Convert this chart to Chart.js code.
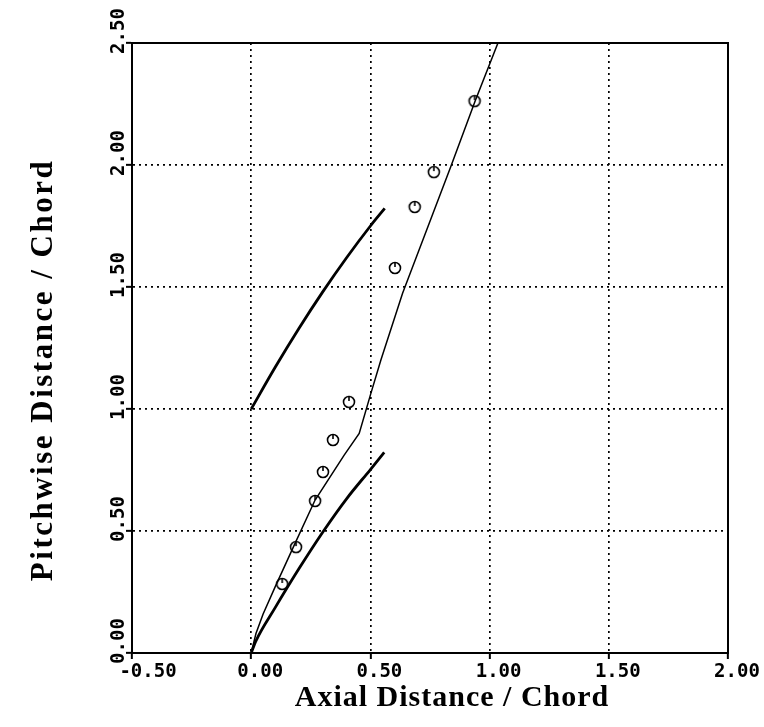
<!DOCTYPE html>
<html>
<head>
<meta charset="utf-8">
<title>Pitchwise vs axial distance</title>
<script src="https://cdn.jsdelivr.net/npm/chart.js@4/dist/chart.umd.min.js"></script>
<style>
  html, body { margin: 0; padding: 0; background: #fff; }
  #wrap { width: 764px; height: 727px; }
</style>
</head>
<body>
<div id="wrap"><canvas id="chart" width="764" height="727"></canvas></div>
<script>
// axis ticks
const xTicks = [-0.5, 0, 0.5, 1.0, 1.5, 2.0];
const yTicks = [0, 0.5, 1.0, 1.5, 2.0, 2.5];

// blade surfaces (heavy lines)
const upperX = [0, 0.1, 0.2, 0.3, 0.4, 0.5, 0.56];
const upperY = [1.0, 1.17, 1.33, 1.48, 1.62, 1.75, 1.822];
const lowerX = [0, 0.02, 0.1, 0.2, 0.3, 0.4, 0.5, 0.558];
const lowerY = [0, 0.05, 0.185, 0.345, 0.495, 0.632, 0.752, 0.822];

// computed path (thin line)
const pathX = [0, 0.02, 0.05, 0.1, 0.181, 0.268, 0.39, 0.453, 0.502, 0.544, 0.635, 0.837, 0.941, 1.035];
const pathY = [0, 0.08, 0.16, 0.27, 0.443, 0.627, 0.811, 0.90, 1.064, 1.201, 1.474, 1.993, 2.266, 2.5];

// measured points (circles)
const measX = [0.130, 0.188, 0.268, 0.301, 0.343, 0.410, 0.603, 0.686, 0.766, 0.937];
const measY = [0.283, 0.434, 0.623, 0.742, 0.873, 1.029, 1.578, 1.828, 1.971, 2.262];

const toXY = (xs, ys) => xs.map((x, i) => ({ x, y: ys[i] }));

// open circle with a small notch at the top
function circleMarker() {
    const c = document.createElement('canvas');
    c.width = 16; c.height = 16;
    const g = c.getContext('2d');
    g.strokeStyle = '#000';
    g.lineWidth = 1.6;
    g.beginPath(); g.arc(8, 8, 5.5, 0, Math.PI * 2); g.stroke();
    g.beginPath(); g.moveTo(8, 2.5); g.lineTo(8, 7); g.stroke();
    return c;
}

const lineSet = (data, width, smooth) => ({
    data, showLine: true, borderColor: '#000', borderWidth: width,
    pointRadius: 0, fill: false,
    cubicInterpolationMode: smooth ? 'monotone' : 'default',
    tension: 0,
});

// frame, tick labels and axis titles
const frameAndLabels = {
    id: 'frameAndLabels',
    afterDraw(chart) {
        const { ctx, chartArea: a, scales: { x, y } } = chart;
        ctx.save();
        ctx.strokeStyle = '#000';
        ctx.lineWidth = 2;
        ctx.strokeRect(a.left, a.top, a.right - a.left, a.bottom - a.top);

        ctx.fillStyle = '#000';
        ctx.font = 'bold 19px "DejaVu Sans Mono"';
        ctx.textAlign = 'center';
        ctx.textBaseline = 'alphabetic';
        xTicks.forEach((v, i) => {
            const px = x.getPixelForValue(v);
            ctx.fillText(v.toFixed(2), px + (i === 0 ? 16 : 9), 677);
        });
        yTicks.forEach(v => {
            const py = y.getPixelForValue(v);
            ctx.save();
            ctx.translate(124, py - 12);
            ctx.rotate(-Math.PI / 2);
            ctx.fillText(v.toFixed(2), 0, 0);
            ctx.restore();
        });

        ctx.font = 'bold 30px "Liberation Serif"';
        ctx.letterSpacing = '1px';
        ctx.fillText('Axial Distance / Chord', 452, 706);

        ctx.save();
        ctx.translate(52, 370);
        ctx.rotate(-Math.PI / 2);
        ctx.font = 'bold 31px "Liberation Serif"';
        ctx.letterSpacing = '2.5px';
        ctx.fillText('Pitchwise Distance / Chord', 0, 0);
        ctx.restore();
        ctx.restore();
    },
};

const gridOpts = (edges) => ({
    color: c => edges.includes(c.tick && c.tick.value) ? 'rgba(0,0,0,0)' : '#000',
    lineWidth: 1.7,
    drawTicks: true,
    tickLength: 6,
    tickColor: '#000',
    tickWidth: 2,
    tickBorderDash: [],
});

new Chart(document.getElementById('chart'), {
    type: 'scatter',
    data: {
        datasets: [
            lineSet(toXY(upperX, upperY), 2.8, true),
            lineSet(toXY(lowerX, lowerY), 2.8, true),
            lineSet(toXY(pathX, pathY), 1.5, false),
            {
                data: toXY(measX, measY),
                showLine: false,
                pointStyle: circleMarker(),
                pointRadius: 6,
            },
        ],
    },
    options: {
        responsive: false,
        animation: false,
        layout: { padding: { top: 43, right: 36, left: 0, bottom: 0 } },
        plugins: { legend: { display: false }, tooltip: { enabled: false } },
        scales: {
            x: {
                type: 'linear', min: -0.5, max: 2,
                afterBuildTicks: s => { s.ticks = xTicks.map(v => ({ value: v })); },
                afterFit: s => { s.height = 74; },
                ticks: { display: false },
                grid: gridOpts([-0.5, 2]),
                border: { display: true, color: '#000', width: 2, dash: [2, 4] },
            },
            y: {
                type: 'linear', min: 0, max: 2.5,
                afterBuildTicks: s => { s.ticks = yTicks.map(v => ({ value: v })); },
                afterFit: s => { s.width = 132; },
                ticks: { display: false },
                grid: gridOpts([0, 2.5]),
                border: { display: true, color: '#000', width: 2, dash: [2, 4] },
            },
        },
    },
    plugins: [frameAndLabels],
});
</script>
</body>
</html>
